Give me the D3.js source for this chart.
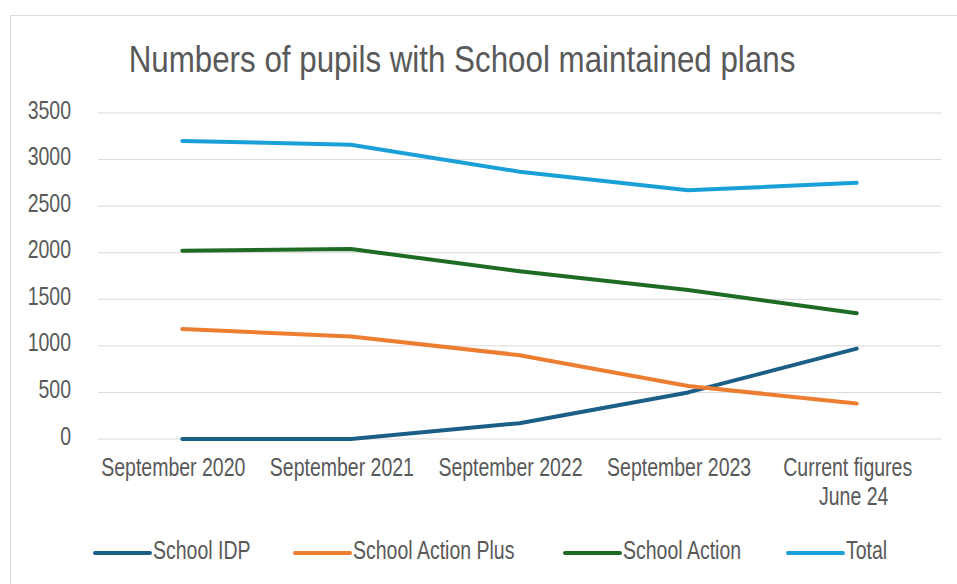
<!DOCTYPE html>
<html lang="en">
<head>
    <meta charset="UTF-8">
    <title>Numbers of pupils with School maintained plans</title>
    <script src="https://d3js.org/d3.v7.min.js"></script>
    <style>
        body { margin: 0; background: #fff; }
        text { font-family: "Liberation Sans", Arial, sans-serif; fill: #595959; }
    </style>
</head>
<body>
    <script>
        // Datos del gráfico
        const categorias = ['September 2020', 'September 2021', 'September 2022', 'September 2023', 'Current figures|June 24'];
        const schoolIDP = [0, 0, 170, 500, 970];
        const schoolActionPlus = [1180, 1100, 900, 570, 380];
        const schoolAction = [2020, 2040, 1800, 1600, 1350];
        const total = [3200, 3160, 2870, 2670, 2750];
        const ticksY = [0, 500, 1000, 1500, 2000, 2500, 3000, 3500];

        const series = [
            { nombre: 'School IDP', valores: schoolIDP, color: '#1b5e86' },
            { nombre: 'School Action Plus', valores: schoolActionPlus, color: '#ed7d31' },
            { nombre: 'School Action', valores: schoolAction, color: '#1e6b24' },
            { nombre: 'Total', valores: total, color: '#1aa0d9' }
        ];

        const ancho = 957, alto = 584;
        const estrecho = 0.78; // la fuente original es tipo "Arial Narrow"
        const svg = d3.select('body').append('svg').attr('width', ancho).attr('height', alto);

        // marco del gráfico
        svg.append('rect')
            .attr('x', 10.5).attr('y', 15.5)
            .attr('width', 960).attr('height', 600)
            .attr('fill', 'none').attr('stroke', '#d9d9d9');

        svg.append('text')
            .attr('transform', 'translate(462,72) scale(0.87,1)')
            .attr('text-anchor', 'middle')
            .style('font-size', '36px')
            .text('Numbers of pupils with School maintained plans');

        const x = d3.scaleBand().domain(categorias).range([98, 941]);
        const y = d3.scaleLinear().domain([0, 3500]).range([439, 113]);

        // líneas de rejilla
        svg.append('g')
            .selectAll('line')
            .data(ticksY)
            .join('line')
            .attr('x1', 98).attr('x2', 941)
            .attr('y1', d => y(d)).attr('y2', d => y(d))
            .attr('stroke', '#d9d9d9').attr('stroke-width', 1);

        // eje Y
        const ejeY = svg.append('g')
            .attr('transform', 'translate(71,0)')
            .call(d3.axisLeft(y).tickValues(ticksY).tickFormat(d3.format('d')).tickSize(0).tickPadding(0));
        ejeY.select('.domain').remove();
        ejeY.selectAll('text')
            .attr('x', 0).attr('y', 5).attr('dy', null)
            .attr('transform', `scale(${estrecho},1)`)
            .style('font-size', '25px')
            .style('fill', '#595959')
            .style('font-family', null);

        // eje X (las etiquetas van algo a la izquierda del punto)
        const ejeX = svg.append('g')
            .attr('transform', 'translate(-9,439)')
            .call(d3.axisBottom(x).tickSize(0).tickPadding(0).tickFormat(''));
        ejeX.select('.domain').remove();
        ejeX.selectAll('.tick').each(function (d) {
            const lineas = d.split('|');
            const t = d3.select(this).select('text')
                .attr('y', 0).attr('dy', null)
                .attr('transform', `scale(${estrecho},1)`)
                .style('font-size', '25px')
                .style('fill', '#595959')
                .style('font-family', null);
            lineas.forEach((l, i) => {
                t.append('tspan')
                    .attr('x', i === 0 ? 0 : 6 / estrecho)
                    .attr('y', 37 + i * 29)
                    .text(l);
            });
        });

        // líneas de datos
        const linea = d3.line()
            .x((d, i) => x(categorias[i]) + x.bandwidth() / 2)
            .y(d => y(d));

        svg.append('g')
            .selectAll('path')
            .data(series)
            .join('path')
            .attr('d', s => linea(s.valores))
            .attr('fill', 'none')
            .attr('stroke', s => s.color)
            .attr('stroke-width', 4)
            .attr('stroke-linecap', 'round')
            .attr('stroke-linejoin', 'round');

        // leyenda
        const posLeyenda = [93, 293, 563, 786];
        const leyenda = svg.append('g')
            .selectAll('g')
            .data(series)
            .join('g')
            .attr('transform', (s, i) => `translate(${posLeyenda[i]},553)`);
        leyenda.append('line')
            .attr('x1', 2).attr('x2', 57)
            .attr('y1', 0).attr('y2', 0)
            .attr('stroke', s => s.color)
            .attr('stroke-width', 4)
            .attr('stroke-linecap', 'round');
        leyenda.append('text')
            .attr('transform', `translate(60,6) scale(${estrecho},1)`)
            .style('font-size', '25px')
            .text(s => s.nombre);
    </script>
</body>
</html>
